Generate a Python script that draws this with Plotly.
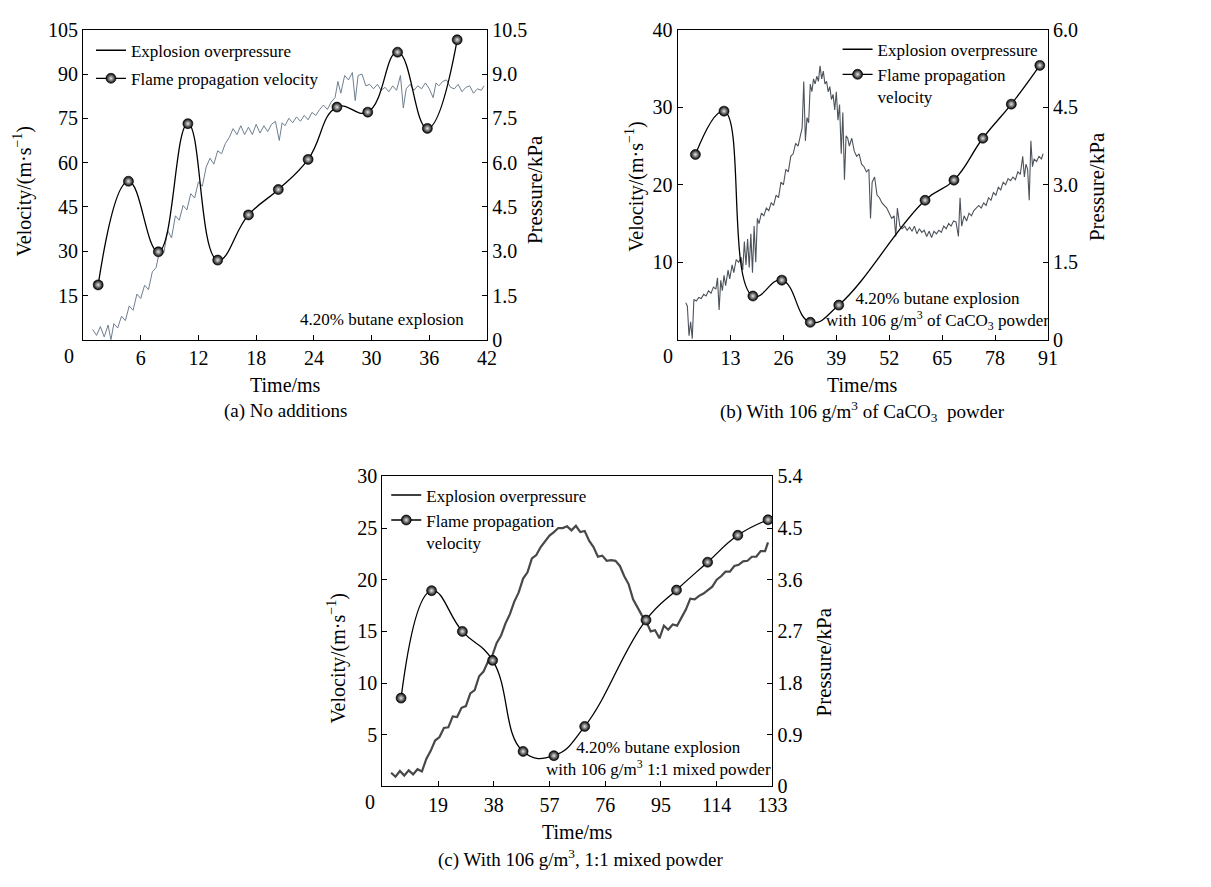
import plotly.graph_objects as go

W, H = 1211, 887
OFF = 8  # the page body margin shifts the figure by 8 px right and down
FONT = "Liberation Serif"

# ---------------- Panel (a) ----------------
a_vel_t = [1.57, 4.72, 7.83, 10.9, 14.0, 17.2, 20.3, 23.4, 26.4, 29.6, 32.7, 35.8, 38.9]
a_vel_v = [18.6, 53.7, 29.8, 73.2, 27.0, 42.3, 50.9, 61.1, 78.8, 77.1, 97.4, 71.6, 101.6]
a_p_t = [1.0, 1.4, 1.8, 2.2, 2.6, 2.9, 3.2, 3.6, 4.0, 4.4,
         4.8, 5.2, 5.6, 6.0, 6.4, 6.8, 7.2, 7.6, 8.0, 8.4,
         8.8, 9.2, 9.6, 10.0, 10.4, 10.8, 11.2, 11.6, 12.0, 12.4,
         12.8, 13.2, 13.6, 14.0, 14.4, 14.8, 15.2, 15.6, 16.0, 16.4,
         16.8, 17.2, 17.6, 18.0, 18.4, 18.8, 19.2, 19.6, 20.0, 20.4,
         20.7, 21.0, 21.4, 21.8, 22.2, 22.6, 23.0, 23.4, 23.8, 24.2,
         24.6, 25.0, 25.4, 25.8, 26.2, 26.5, 26.8, 27.2, 27.6, 28.0,
         28.3, 28.6, 29.0, 29.4, 29.8, 30.2, 30.6, 31.0, 31.4, 31.8,
         32.2, 32.6, 33.0, 33.3, 33.6, 34.0, 34.4, 34.8, 35.2, 35.6,
         36.0, 36.4, 36.7, 37.0, 37.4, 37.8, 38.2, 38.6, 39.0, 39.4,
         39.8, 40.2, 40.6, 41.0, 41.4, 41.7]
a_p_v = [0.35, 0.15, 0.45, 0.10, 0.50, 0.00, 0.55, 0.40, 0.80, 0.65,
         1.15, 1.00, 1.55, 1.40, 1.85, 1.70, 2.30, 2.45, 3.10, 2.95,
         3.70, 3.45, 4.20, 4.05, 4.55, 4.40, 4.95, 4.80, 5.35, 5.20,
         5.85, 6.15, 5.95, 6.40, 6.30, 6.65, 6.85, 7.15, 6.95, 7.25,
         6.95, 7.20, 6.95, 7.30, 7.00, 7.25, 7.05, 7.30, 7.40, 6.75,
         7.35, 7.25, 7.50, 7.35, 7.55, 7.40, 7.60, 7.45, 7.70, 7.60,
         7.80, 7.95, 7.80, 8.05, 8.20, 8.75, 8.35, 8.95, 8.80, 9.05,
         8.10, 8.95, 9.00, 8.60, 8.65, 8.50, 8.65, 8.45, 8.55, 8.40,
         8.60, 8.45, 8.95, 7.85, 8.50, 8.65, 8.45, 8.60, 8.50, 8.70,
         8.50, 8.20, 8.70, 8.60, 8.75, 8.80, 8.55, 8.50, 8.65, 8.40,
         8.55, 8.60, 8.35, 8.50, 8.45, 8.60]

# ---------------- Panel (b) ----------------
b_vel_t = [4.37, 11.4, 18.5, 25.6, 32.6, 39.6, 60.8, 67.9, 75.0, 82.0, 89.0]
b_vel_v = [23.9, 29.5, 5.65, 7.7, 2.26, 4.48, 18.0, 20.6, 26.0, 30.4, 35.4]
b_p_t = [2.0, 2.4, 2.8, 3.2, 3.6, 4.0, 4.6, 5.2, 5.8, 6.4,
         7.0, 7.6, 8.2, 8.8, 9.4, 9.8, 10.2, 10.6, 11.0, 11.4,
         11.8, 12.4, 12.8, 13.4, 13.8, 14.4, 15.0, 15.6, 16.0, 16.4,
         16.8, 17.2, 17.6, 18.0, 18.4, 18.8, 19.2, 19.6, 20.0, 20.6,
         21.2, 21.8, 22.4, 23.0, 23.6, 24.2, 24.8, 25.4, 26.0, 26.6,
         27.2, 27.8, 28.4, 29.0, 29.6, 30.2, 30.6, 31.0, 31.4, 31.8,
         32.2, 32.6, 33.0, 33.4, 33.8, 34.2, 34.6, 35.0, 35.4, 35.8,
         36.2, 36.6, 37.0, 37.4, 37.8, 38.2, 38.6, 39.0, 39.4, 39.8,
         40.2, 40.6, 41.0, 41.4, 41.8, 42.2, 42.8, 43.4, 44.0, 44.6,
         45.2, 45.8, 46.4, 47.0, 47.4, 47.8, 48.4, 49.0, 49.6, 50.2,
         50.8, 51.4, 52.0, 52.6, 53.2, 53.6, 54.0, 54.6, 55.2, 55.8,
         56.4, 57.0, 57.6, 58.2, 58.8, 59.4, 60.0, 60.6, 61.2, 61.8,
         62.4, 63.0, 63.6, 64.2, 64.8, 65.4, 66.0, 66.6, 67.2, 67.8,
         68.4, 69.0, 69.4, 69.8, 70.4, 71.0, 71.6, 72.2, 72.8, 73.4,
         74.0, 74.6, 75.2, 75.8, 76.4, 77.0, 77.6, 78.2, 78.8, 79.4,
         80.0, 80.6, 81.2, 81.8, 82.4, 83.0, 83.6, 84.2, 84.8, 85.2,
         85.6, 86.0, 86.4, 86.8, 87.2, 87.6, 88.2, 88.8, 89.4, 89.8]
b_p_v = [0.72, 0.65, 0.08, 0.35, 0.02, 0.78, 0.75, 0.82, 0.80, 0.88,
         0.85, 0.95, 0.90, 1.02, 0.98, 1.20, 0.58, 1.15, 0.95, 1.25,
         1.05, 1.35, 1.18, 1.45, 1.30, 1.55, 1.50, 1.60, 1.35, 1.90,
         1.45, 1.95, 1.40, 2.05, 1.30, 2.20, 1.50, 2.35, 2.25, 2.45,
         2.40, 2.55, 2.50, 2.65, 2.60, 2.80, 2.75, 3.05, 3.00, 3.30,
         3.25, 3.55, 3.60, 3.80, 3.75, 3.95, 4.10, 5.00, 3.85, 4.30,
         4.20, 4.95, 4.80, 5.05, 4.95, 5.10, 5.00, 5.30, 5.05, 5.20,
         4.95, 5.00, 4.80, 4.90, 4.65, 4.75, 4.45, 4.80, 4.25, 4.55,
         3.60, 4.40, 3.10, 3.95, 3.90, 3.75, 3.90, 3.65, 3.55, 3.60,
         3.40, 3.35, 3.25, 3.30, 2.35, 3.05, 3.15, 2.80, 2.75, 2.65,
         2.60, 2.55, 2.45, 2.35, 2.40, 2.00, 2.55, 2.20, 2.15, 2.20,
         2.12, 2.18, 2.10, 2.20, 2.05, 2.15, 2.08, 2.12, 2.00, 2.10,
         1.98, 2.10, 2.05, 2.12, 2.08, 2.20, 2.15, 2.25, 2.20, 2.30,
         2.28, 2.00, 2.75, 2.20, 2.40, 2.30, 2.45, 2.40, 2.50, 2.55,
         2.60, 2.55, 2.65, 2.60, 2.75, 2.70, 2.85, 2.80, 2.95, 2.90,
         3.05, 3.00, 3.12, 3.08, 3.15, 3.10, 3.25, 3.20, 3.55, 3.15,
         3.40, 3.30, 2.70, 3.85, 3.35, 3.50, 3.45, 3.55, 3.50, 3.60]

# ---------------- Panel (c) ----------------
c_vel_t = [6.4, 16.8, 27.3, 37.6, 48.0, 58.5, 69.0, 89.9, 100.3, 110.9, 121.2, 131.5]
c_vel_v = [8.55, 18.94, 15.0, 12.2, 3.39, 2.98, 5.81, 16.1, 19.0, 21.7, 24.3, 25.8]
c_p_t = [3.0, 4.5, 6.0, 7.5, 9.0, 10.5, 12.0, 13.5, 15.0, 16.5,
         18.0, 19.5, 21.0, 22.5, 24.0, 25.5, 27.0, 28.5, 30.0, 31.5,
         33.0, 34.5, 36.0, 37.5, 39.0, 40.5, 42.0, 43.5, 45.0, 46.5,
         48.0, 49.5, 51.0, 52.5, 54.0, 55.5, 57.0, 58.5, 60.0, 61.5,
         63.0, 64.5, 66.0, 67.5, 69.0, 70.5, 72.0, 73.5, 75.0, 76.5,
         78.0, 79.5, 81.0, 82.5, 84.0, 85.5, 87.0, 88.5, 90.0, 91.5,
         93.0, 94.5, 96.0, 97.5, 99.0, 100.5, 102.0, 103.5, 105.0, 106.5,
         108.0, 109.5, 111.0, 112.5, 114.0, 115.5, 117.0, 118.5, 120.0, 121.5,
         123.0, 124.5, 126.0, 127.5, 129.0, 130.5, 131.5]
c_p_v = [0.24, 0.17, 0.27, 0.19, 0.28, 0.21, 0.30, 0.26, 0.48, 0.62,
         0.80, 0.86, 1.02, 1.03, 1.22, 1.21, 1.37, 1.40, 1.62, 1.68,
         1.92, 2.00, 2.17, 2.28, 2.50, 2.63, 2.84, 3.00, 3.22, 3.38,
         3.62, 3.73, 3.97, 4.03, 4.17, 4.26, 4.37, 4.43, 4.50, 4.50,
         4.53, 4.46, 4.54, 4.43, 4.45, 4.28, 4.17, 4.00, 4.02, 3.93,
         3.94, 3.93, 3.84, 3.66, 3.52, 3.26, 3.12, 2.98, 2.87, 2.70,
         2.72, 2.58, 2.80, 2.73, 2.82, 2.80, 2.94, 3.08, 3.27, 3.26,
         3.32, 3.36, 3.42, 3.48, 3.60, 3.66, 3.74, 3.74, 3.84, 3.86,
         3.92, 3.93, 4.00, 4.00, 4.10, 4.10, 4.25]

# ---------------- Axis / tick settings ----------------
a_xticks = [6, 12, 18, 24, 30, 36, 42]
a_vticks = [15, 30, 45, 60, 75, 90, 105]
a_pticks = [0, 1.5, 3.0, 4.5, 6.0, 7.5, 9.0, 10.5]
a_ptext = ["0", "1.5", "3.0", "4.5", "6.0", "7.5", "9.0", "10.5"]
b_xticks = [13, 26, 39, 52, 65, 78, 91]
b_vticks = [10, 20, 30, 40]
b_pticks = [0, 1.5, 3.0, 4.5, 6.0]
b_ptext = ["0", "1.5", "3.0", "4.5", "6.0"]
c_xticks = [19, 38, 57, 76, 95, 114, 133]
c_vticks = [5, 10, 15, 20, 25, 30]
c_pticks = [0, 0.9, 1.8, 2.7, 3.6, 4.5, 5.4]
c_ptext = ["0", "0.9", "1.8", "2.7", "3.6", "4.5", "5.4"]

legend_names = ["Explosion overpressure", "Flame propagation velocity"]


def px_x(v):
    return (v - OFF) / W


def px_y(v):
    return 1 - (v - OFF) / H


panels = [
    dict(box=(84, 493, 19, 337), xr=42, vr=105, pr=10.5,
         xt=a_xticks, vt=a_vticks, pt=a_pticks, ptx=a_ptext,
         vel_t=a_vel_t, vel_v=a_vel_v, p_t=a_p_t, p_v=a_p_v,
         pcolor="#6f7f90", pwidth=1.0,
         vel_name=legend_names[1], legend=(92, 22), gap=3),
    dict(box=(686, 1061, 19, 337), xr=91, vr=40, pr=6.0,
         xt=b_xticks, vt=b_vticks, pt=b_pticks, ptx=b_ptext,
         vel_t=b_vel_t, vel_v=b_vel_v, p_t=b_p_t, p_v=b_p_v,
         pcolor="#4d535a", pwidth=1.1,
         vel_name="Flame propagation<br>velocity", legend=(848, 21), gap=0),
    dict(box=(387, 782, 477, 795), xr=133, vr=30, pr=5.4,
         xt=c_xticks, vt=c_vticks, pt=c_pticks, ptx=c_ptext,
         vel_t=c_vel_t, vel_v=c_vel_v, p_t=c_p_t, p_v=c_p_v,
         pcolor="#484848", pwidth=2.2,
         vel_name="Flame propagation<br>velocity", legend=(391, 478), gap=0),
]

fig = go.Figure()
layout = dict(width=W, height=H, margin=dict(l=0, r=0, t=0, b=0),
              paper_bgcolor="white", plot_bgcolor="white",
              font=dict(family=FONT, size=20, color="black"),
              showlegend=True, annotations=[])

tickfont = dict(family=FONT, size=20, color="black")
for i, p in enumerate(panels):
    xn = "x" if i == 0 else f"x{i+1}"
    pn = "y" if i == 0 else f"y{2*i+1}"      # pressure (base axis, right side)
    vn = f"y{2*i+2}"                          # velocity (overlay axis, left side)
    xkey = "xaxis" if i == 0 else f"xaxis{i+1}"
    pkey = "yaxis" if i == 0 else f"yaxis{2*i+1}"
    vkey = f"yaxis{2*i+2}"
    lkey = "legend" if i == 0 else f"legend{i+1}"
    x0, x1, y0, y1 = p["box"]
    common = dict(showgrid=False, zeroline=False, showline=True, linecolor="black",
                  linewidth=1.3, ticks="inside", ticklen=5, tickwidth=1.1,
                  tickcolor="black", tickfont=tickfont)
    layout[xkey] = dict(domain=[px_x(x0), px_x(x1)], range=[0, p["xr"]], anchor=pn,
                        tickvals=p["xt"], mirror=True, **common)
    layout[pkey] = dict(domain=[px_y(y1), px_y(y0)], range=[0, p["pr"]], anchor=xn,
                        side="right", tickvals=p["pt"], ticktext=p["ptx"], **common)
    layout[vkey] = dict(range=[0, p["vr"]], anchor=xn, overlaying=pn, side="left",
                        tickvals=p["vt"], **common)
    lx, ly = p["legend"]
    layout[lkey] = dict(x=px_x(lx), y=px_y(ly), xanchor="left", yanchor="top",
                        bgcolor="rgba(0,0,0,0)", borderwidth=0, valign="top",
                        font=dict(family=FONT, size=17, color="black"),
                        tracegroupgap=p["gap"], traceorder="grouped", itemwidth=30)

    # pressure trace
    fig.add_trace(go.Scatter(x=p["p_t"], y=p["p_v"], xaxis=xn, yaxis=pn, mode="lines",
                             line=dict(color=p["pcolor"], width=p["pwidth"]),
                             showlegend=False, hoverinfo="skip"))
    # legend entry for the pressure curve (black line, as in the original)
    fig.add_trace(go.Scatter(x=[None], y=[None], xaxis=xn, yaxis=pn, mode="lines",
                             line=dict(color="black", width=1.5), name=legend_names[0],
                             legend=lkey, legendgroup=f"p{i}", showlegend=True))
    # velocity trace
    fig.add_trace(go.Scatter(x=p["vel_t"], y=p["vel_v"], xaxis=xn, yaxis=vn,
                             mode="lines+markers", name=p["vel_name"],
                             line=dict(color="black", width=1.3, shape="spline", smoothing=1.3),
                             marker=dict(size=10, color="black", symbol="circle",
                                         gradient=dict(type="radial", color="#e6e6e6"),
                                         line=dict(color="black", width=0.6)),
                             legend=lkey, legendgroup=f"v{i}", showlegend=True))


def ann(text, x, y, size=17, angle=0, xanchor="center", yanchor="middle", align="center"):
    layout["annotations"].append(dict(text=text, x=px_x(x), y=px_y(y), xref="paper", yref="paper",
                                      showarrow=False, textangle=angle, xanchor=xanchor,
                                      yanchor=yanchor, align=align,
                                      font=dict(family=FONT, size=size, color="black")))


vel_title = "Velocity/(m·s<sup>−1</sup>)"
# panel a
ann("0", 70, 354, 20)
ann("Time/ms", 289, 383, 20)
ann(vel_title, 23, 185, 20, angle=-90)
ann("Pressure/kPa", 541, 183, 21, angle=-90)
ann("4.20% butane explosion", 472, 316, 17, xanchor="right")
ann("(a) No additions", 289, 410, 19)
# panel b
ann("0", 676, 354, 20)
ann("Time/ms", 873, 383, 20)
ann(vel_title, 643, 180, 20, angle=-90)
ann("Pressure/kPa", 1110, 180, 21, angle=-90)
ann("4.20% butane explosion<br>with 106 g/m<sup>3</sup> of CaCO<sub>3</sub> powder", 949, 307, 17)
ann("(b) With 106 g/m<sup>3</sup> of CaCO<sub>3</sub>  powder", 873, 410, 19)
# panel c
ann("0", 375, 811, 20)
ann("Time/ms", 585, 842, 20)
ann(vel_title, 341, 664, 20, angle=-90)
ann("Pressure/kPa", 834, 667, 21, angle=-90)
ann("4.20% butane explosion<br>with 106 g/m<sup>3</sup> 1:1 mixed powder", 667, 766, 17)
ann("(c) With 106 g/m<sup>3</sup>, 1:1 mixed powder", 588, 869, 19)

fig.update_layout(**layout)
fig.write_html("out.html")
